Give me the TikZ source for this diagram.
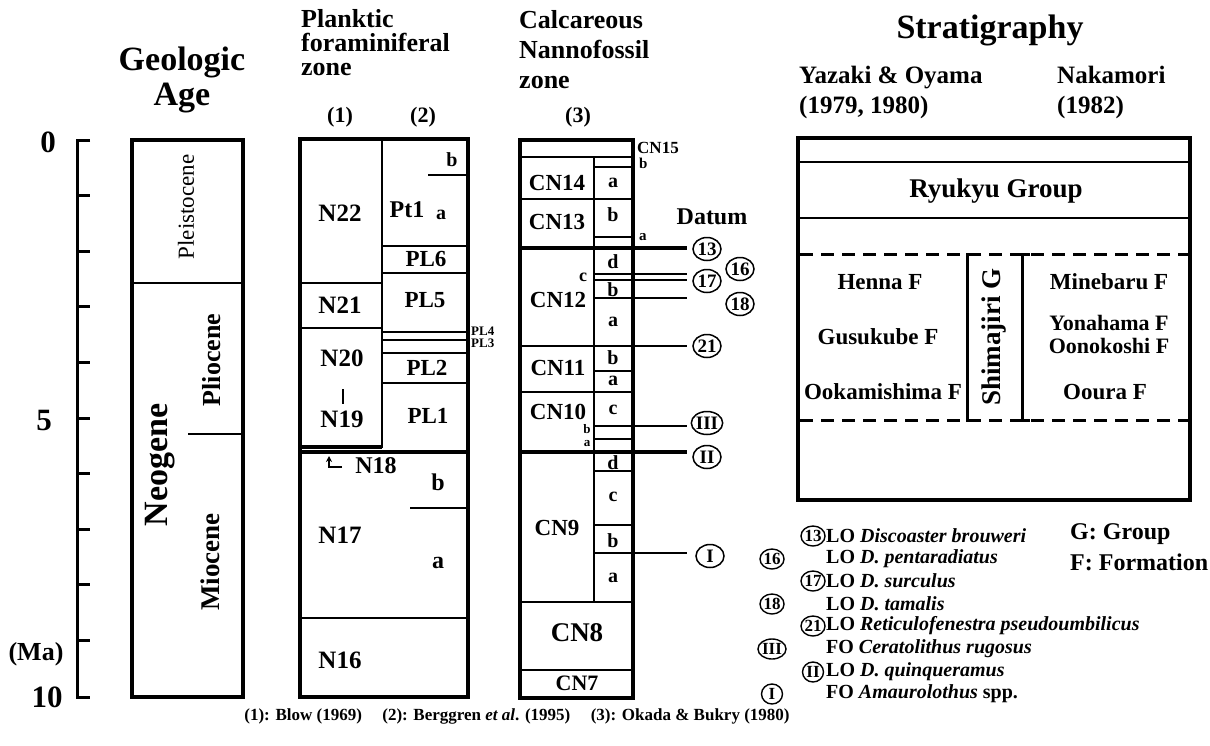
\documentclass[tikz,border=0pt]{standalone}
\usepackage{fontspec}
\setmainfont{Liberation Serif}
\usetikzlibrary{arrows.meta,shapes.geometric}
\newcommand\sz[1]{\fontsize{#1}{#1}\selectfont}
\begin{document}
\begin{tikzpicture}[x=1pt,y=-1pt,
  every node/.style={inner sep=0pt},
  tx/.style={font=\bfseries\sz{#1}},
  txr/.style={font=\sz{#1}},
  lnbox/.style={line width=4pt},
  lnmid/.style={line width=2.4pt},
  lnthk/.style={line width=3.6pt},
  lnthn/.style={line width=1.3pt},
  dcirc/.style={draw, ellipse, line width=1.5pt, inner sep=0pt, minimum width=28pt, minimum height=23pt, font=\bfseries\sz{19}},
  lcirc/.style={draw, ellipse, line width=1.4pt, inner sep=0pt, minimum width=21pt, minimum height=20pt, font=\bfseries\sz{17}},
  leg/.style={anchor=west, font=\bfseries\sz{20}},
]
\useasboundingbox[fill=white] (0,0) rectangle (1210,745);

% ---------- headers ----------
\node[tx=34] (hgeo1) at (182,62) {Geologic};
\node[tx=34] (hgeo2) at (182,98) {Age};
\node[tx=26, anchor=base west] (hpl1) at (301,27) {Planktic};
\node[tx=26, anchor=base west] (hpl2) at (301,51) {foraminiferal};
\node[tx=26, anchor=base west] (hpl3) at (301,75) {zone};
\node[tx=26, anchor=base west] (hcn1) at (519,28) {Calcareous};
\node[tx=26, anchor=base west] (hcn2) at (519,58) {Nannofossil};
\node[tx=26, anchor=base west] (hcn3) at (519,88) {zone};
\node[tx=22] (h1) at (340,117) {(1)};
\node[tx=22] (h2) at (423,117) {(2)};
\node[tx=22] (h3) at (578,117) {(3)};
\node[tx=34] (hstr) at (990,30) {Stratigraphy};
\node[tx=25, anchor=base west] (hya1) at (799,83) {Yazaki \& Oyama};
\node[tx=25, anchor=base west] (hya2) at (799,113) {(1979, 1980)};
\node[tx=25, anchor=base west] (hna1) at (1057,83) {Nakamori};
\node[tx=25, anchor=base west] (hna2) at (1057,113) {(1982)};

% ---------- age axis ----------
\draw[line width=3pt] (90,140) -- (77,140) -- (77,697) -- (90,697);
\foreach \k in {1,...,9} \draw[line width=3pt] (77,140+55.6*\k) -- (90,140+55.6*\k);
\node[tx=31] (a0) at (48,142) {0};
\node[tx=31] (a5) at (44,420) {5};
\node[tx=31] (a10) at (47,697) {10};
\node[tx=26] (ama) at (36,654) {(Ma)};

% ---------- geologic age column ----------
\draw[lnbox] (132,140) rectangle (243,697);
\draw[lnmid] (132,283) -- (243,283);
\draw[lnmid] (188,434) -- (243,434);
\node[txr=23, rotate=90] (pleist) at (186,207) {Pleistocene};
\node[tx=26, rotate=90] (plio) at (212,360) {Pliocene};
\node[tx=27, rotate=90] (mio) at (210,562) {Miocene};
\node[tx=34, rotate=90] (neo) at (160,465) {Neogene};

% ---------- planktic foraminiferal column ----------
\draw[lnbox] (300,139) rectangle (468,697);
\draw[lnmid] (382,139) -- (382,448);
\draw[lnmid] (300,283) -- (382,283);
\draw[lnmid] (300,328) -- (382,328);
\draw[lnthk] (300,447) -- (382,447);
\draw[lnthk] (300,452) -- (468,452);
\draw[lnmid] (300,618) -- (468,618);
\draw[lnmid] (428,175) -- (468,175);
\draw[lnmid] (382,246) -- (468,246);
\draw[lnmid] (382,273) -- (468,273);
\draw[lnmid] (382,332) -- (468,332);
\draw[lnmid] (382,340) -- (468,340);
\draw[lnmid] (382,353) -- (468,353);
\draw[lnmid] (382,383) -- (468,383);
\draw[lnmid] (410,508) -- (468,508);
\node[tx=25] (n22) at (340,213) {N22};
\node[tx=24] (pt1) at (407,210) {Pt1};
\node[tx=20] (pta) at (441,215) {a};
\node[tx=20] (ptb) at (452,160) {b};
\node[tx=23] (pl6) at (426,259) {PL6};
\node[tx=23] (pl5) at (425,300) {PL5};
\node[tx=13, anchor=west] (pl4) at (471,331) {PL4};
\node[tx=13, anchor=west] (pl3) at (471,343) {PL3};
\node[tx=25] (n21) at (340,305) {N21};
\node[tx=25] (n20) at (342,358) {N20};
\draw[line width=2pt] (343,389) -- (343,404);
\node[tx=25] (n19) at (342,419) {N19};
\node[tx=23] (pl2) at (427,368) {PL2};
\node[tx=23] (pl1) at (428,416) {PL1};
\node[tx=24] (n18) at (376,466) {N18};
\coordinate (arr1) at (342,467);
\coordinate (arr2) at (329,456);
\draw[line width=1.5pt, -{Stealth[length=6pt,width=6pt]}] (arr1) -| (arr2);
\node[tx=24] (n17b) at (438,482) {b};
\node[tx=25] (n17) at (340,535) {N17};
\node[tx=24] (n17a) at (438,563) {a};
\node[tx=25] (n16) at (340,660) {N16};

% ---------- calcareous nannofossil column ----------
\draw[lnbox] (520,140) rectangle (633,698);
\draw[lnmid] (594,157) -- (594,601);
\draw[lnmid] (520,157) -- (633,157);
\draw[lnmid] (520,199) -- (633,199);
\draw[lnthk] (520,248) -- (633,248);
\draw[lnmid] (520,346) -- (633,346);
\draw[lnmid] (520,392) -- (633,392);
\draw[lnthk] (520,452) -- (633,452);
\draw[lnmid] (520,602) -- (633,602);
\draw[lnmid] (520,670) -- (633,670);
\draw[lnthn] (594,167) -- (633,167);
\draw[lnthn] (594,237) -- (633,237);
\draw[lnthn] (594,274) -- (633,274);
\draw[lnthn] (594,280) -- (633,280);
\draw[lnthn] (594,298) -- (633,298);
\draw[lnthn] (594,371) -- (633,371);
\draw[lnmid] (594,426) -- (633,426);
\draw[lnthn] (594,439) -- (633,439);
\draw[lnthn] (594,471) -- (633,471);
\draw[lnthn] (594,525) -- (633,525);
\draw[lnthn] (594,553) -- (633,553);
\node[tx=17, anchor=west] (cn15) at (637,148) {CN15};
\node[tx=15, anchor=west] (cn14b) at (639,163) {b};
\node[tx=15, anchor=west] (cn13a) at (639,237) {a};
\node[tx=23] (cn14) at (557,183) {CN14};
\node[tx=20] (cn14a) at (613,183) {a};
\node[tx=23] (cn13) at (557,222) {CN13};
\node[tx=20] (cn13bb) at (613,215) {b};
\node[tx=23] (cn12) at (558,300) {CN12};
\node[tx=20] (cn12d) at (613,262) {d};
\node[tx=18] (cn12c) at (583,277) {c};
\node[tx=20] (cn12b) at (613,290) {b};
\node[tx=20] (cn12a) at (613,322) {a};
\node[tx=23] (cn11) at (558,368) {CN11};
\node[tx=20] (cn11b) at (613,358) {b};
\node[tx=20] (cn11a) at (613,381) {a};
\node[tx=23] (cn10) at (558,412) {CN10};
\node[tx=20] (cn10c) at (613,410) {c};
\node[tx=13] (cn10b) at (587,429) {b};
\node[tx=13] (cn10a) at (587,444) {a};
\node[tx=20] (cn9d) at (613,463) {d};
\node[tx=23] (cn9) at (557,528) {CN9};
\node[tx=20] (cn9c) at (613,497) {c};
\node[tx=20] (cn9b) at (613,541) {b};
\node[tx=20] (cn9a) at (613,578) {a};
\node[tx=27] (cn8) at (577,633) {CN8};
\node[tx=22] (cn7) at (577,683) {CN7};

% ---------- datum ----------
\node[tx=24] (datum) at (712,217) {Datum};
\node[dcirc] (d13) at (707,249) {13};
\node[dcirc] (d16) at (740,269) {16};
\node[dcirc] (d17) at (707,281) {17};
\node[dcirc] (d18) at (740,304) {18};
\node[dcirc] (d21) at (707,346) {21};
\node[dcirc] (dIII) at (707,423) {III};
\node[dcirc] (dII) at (707,457) {II};
\node[dcirc] (dI) at (710,556) {I};
\coordinate (s13) at (633,248);  \coordinate (e13) at (687,248);
\coordinate (s16) at (633,274);  \coordinate (e16) at (687,274);
\coordinate (s17) at (633,280);  \coordinate (e17) at (687,280);
\coordinate (s18) at (633,298);  \coordinate (e18) at (687,298);
\coordinate (s21) at (633,346);  \coordinate (e21) at (687,346);
\coordinate (sIII) at (633,426); \coordinate (eIII) at (687,426);
\coordinate (sII) at (633,452);  \coordinate (eII) at (687,452);
\coordinate (sI) at (633,553);   \coordinate (eI) at (687,553);
\draw[lnthk] (s13) -- (e13);
\draw[lnthn] (s16) -- (e16);
\draw[lnthn] (s17) -- (e17);
\draw[lnthn] (s18) -- (e18);
\draw[lnmid] (s21) -- (e21);
\draw[lnthn] (sIII) -- (eIII);
\draw[lnthk] (sII) -- (eII);
\draw[lnthn] (sI) -- (eI);

% ---------- stratigraphy ----------
\draw[lnbox] (798,138) rectangle (1190,500);
\draw[lnmid] (798,162) -- (1190,162);
\draw[lnmid] (798,218) -- (1190,218);
\draw[line width=3pt, dash pattern=on 13pt off 8pt] (800,254) -- (1188,254);
\draw[line width=3pt, dash pattern=on 13pt off 8pt] (800,420) -- (1188,420);
\draw[line width=3pt] (981,254) -- (967,254) -- (967,420) -- (981,420);
\draw[line width=3pt] (1015,254) -- (1030,254);
\draw[line width=3pt] (1022,254) -- (1022,420);
\draw[line width=3pt] (1015,420) -- (1030,420);
\node[tx=27] (ryu) at (996,191) {Ryukyu Group};
\node[tx=27, rotate=90] (shim) at (994,337) {Shimajiri G};
\node[tx=23] (henna) at (880,282) {Henna F};
\node[tx=23] (gusu) at (878,337) {Gusukube F};
\node[tx=23] (ooka) at (883,392) {Ookamishima F};
\node[tx=23] (mine) at (1109,282) {Minebaru F};
\node[tx=22] (yona) at (1109,323) {Yonahama F};
\node[tx=22] (oono) at (1109,346) {Oonokoshi F};
\node[tx=23] (oour) at (1105,392) {Ooura F};

% ---------- legend ----------
\node[lcirc] (l13) at (813,536) {13};
\node[lcirc] (l16) at (772,559) {16};
\node[lcirc] (l17) at (813,581) {17};
\node[lcirc] (l18) at (772,604) {18};
\node[lcirc] (l21) at (813,626) {21};
\node[lcirc] (lIII) at (772,649) {III};
\node[lcirc] (lII) at (813,672) {II};
\node[lcirc] (lI) at (772,694) {I};
\node[leg] (t13) at (826,536) {LO \textit{Discoaster brouweri}};
\node[leg] (t16) at (826,559) {LO \textit{D. pentaradiatus}};
\node[leg] (t17) at (826,581) {LO \textit{D. surculus}};
\node[leg] (t18) at (826,604) {LO \textit{D. tamalis}};
\node[leg] (t21) at (826,626) {LO \textit{Reticulofenestra pseudoumbilicus}};
\node[leg] (tIII) at (826,649) {FO \textit{Ceratolithus rugosus}};
\node[leg] (tII) at (826,672) {LO \textit{D. quinqueramus}};
\node[leg] (tI) at (826,694) {FO \textit{Amaurolothus} spp.};
\node[tx=24, anchor=west] (gg) at (1070,534) {G: Group};
\node[tx=24, anchor=west] (ff) at (1070,562) {F: Formation};

% ---------- caption ----------
\node[tx=17] (cap) at (517,716) {(1): Blow (1969)\hspace{1.2em}(2): Berggren \textit{et al}. (1995)\hspace{1.2em}(3): Okada \& Bukry (1980)};
\end{tikzpicture}
\end{document}
